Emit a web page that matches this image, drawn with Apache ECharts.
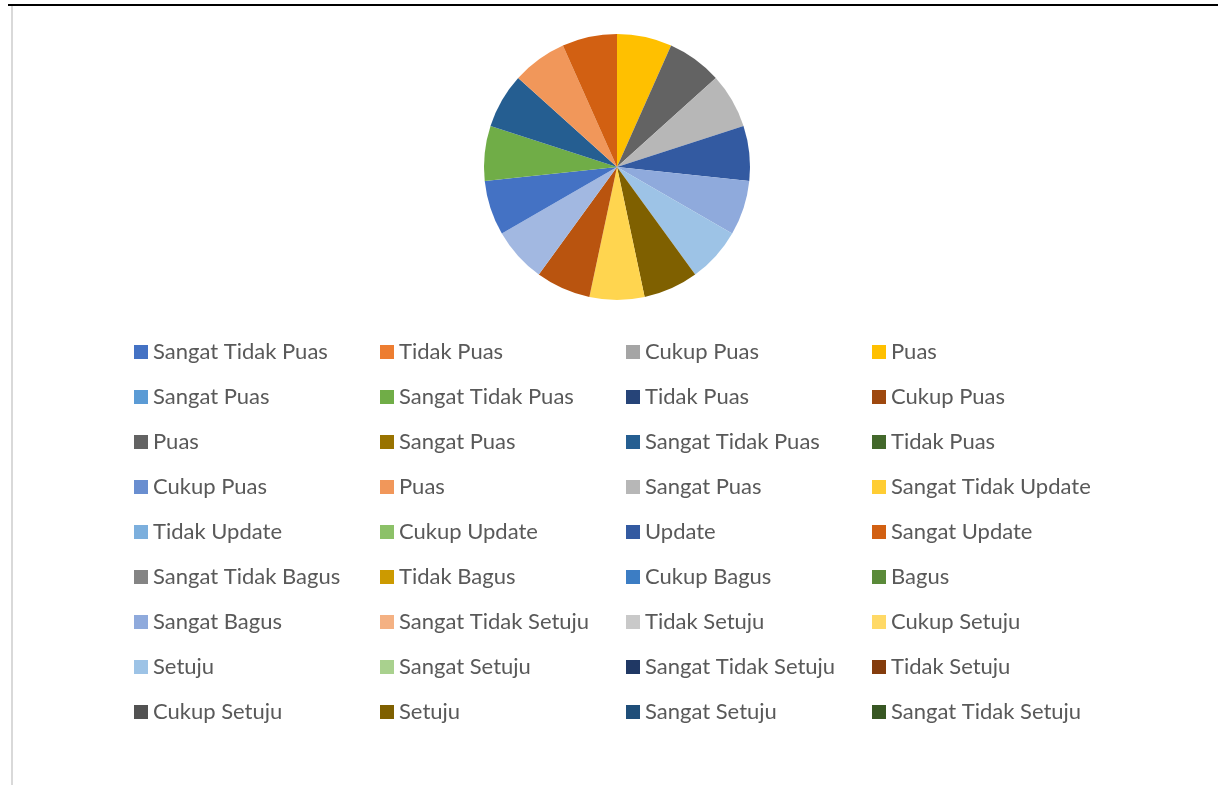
<!DOCTYPE html>
<html lang="id">
<head>
	<meta charset="utf-8">
	<title>Diagram Kuesioner</title>
	<script src="https://cdn.jsdelivr.net/npm/echarts@6/dist/echarts.min.js"></script>
	<style>
		html, body { margin: 0; padding: 0; background: #fff; }
		#main { width: 1218px; height: 785px; }
	</style>
</head>
<body>
	<div id="main"></div>

	<script type="text/javascript">
		// kategori yang tampil di legenda (urutan data)
		var categories = [
			'Sangat Tidak Puas', 'Tidak Puas', 'Cukup Puas', 'Puas',
			'Sangat Puas', 'Sangat Tidak Puas', 'Tidak Puas', 'Cukup Puas',
			'Puas', 'Sangat Puas', 'Sangat Tidak Puas', 'Tidak Puas',
			'Cukup Puas', 'Puas', 'Sangat Puas', 'Sangat Tidak Update',
			'Tidak Update', 'Cukup Update', 'Update', 'Sangat Update',
			'Sangat Tidak Bagus', 'Tidak Bagus', 'Cukup Bagus', 'Bagus',
			'Sangat Bagus', 'Sangat Tidak Setuju', 'Tidak Setuju', 'Cukup Setuju',
			'Setuju', 'Sangat Setuju', 'Sangat Tidak Setuju', 'Tidak Setuju',
			'Cukup Setuju', 'Setuju', 'Sangat Setuju', 'Sangat Tidak Setuju'
		];
		var values = [
			0, 0, 0, 1,
			0, 0, 0, 0,
			1, 0, 0, 0,
			0, 0, 1, 0,
			0, 0, 1, 0,
			0, 0, 0, 0,
			1, 0, 0, 0,
			1, 0, 0, 0,
			0, 1, 0, 0
		];
		// irisan sisanya (tidak muat di legenda)
		var extraLabels = ['Butir 8', 'Butir 9', 'Butir 10', 'Butir 11', 'Butir 12', 'Butir 13', 'Butir 14', 'Butir 15'];
		var extraValues = [1, 1, 1, 1, 1, 1, 1, 1];

		// warna ala Excel
		var palette = [
			'#4472C4', '#ED7D31', '#A5A5A5', '#FFC000', '#5B9BD5', '#70AD47',
			'#264478', '#9E480E', '#636363', '#997300', '#255E91', '#43682B',
			'#698ED0', '#F1975A', '#B7B7B7', '#FFCD33', '#7CAFDD', '#8CC168',
			'#335AA1', '#D26012', '#848484', '#CC9A00', '#3C7DC4', '#5A8A39',
			'#8FAADC', '#F4B183', '#C9C9C9', '#FFD966', '#9DC3E6', '#A9D18E',
			'#203864', '#843C0C', '#525252', '#7F6000', '#1F4E79', '#385723'
		];
		var extraPalette = ['#FFD54F', '#B9540F', '#A2B8E1', '#4472C4', '#70AD47', '#255E91', '#F1975A', '#D26012'];

		// nama dibuat unik supaya legenda tidak menggabungkan yang sama
		var pieData = [];
		var legendNames = [];
		for (var i = 0; i < categories.length; i++) {
			var key = categories[i] + '#' + i;
			legendNames.push(key);
			pieData.push({ name: key, value: values[i], itemStyle: { color: palette[i] } });
		}
		for (var j = 0; j < extraLabels.length; j++) {
			pieData.push({ name: extraLabels[j] + '#x' + j, value: extraValues[j], itemStyle: { color: extraPalette[j] } });
		}

		// 4 kolom legenda
		var legends = [];
		for (var c = 0; c < 4; c++) {
			var colData = [];
			for (var k = c; k < legendNames.length; k += 4) colData.push(legendNames[k]);
			legends.push({
				orient: 'vertical',
				left: 134 + c * 246,
				top: 341,
				padding: 0,
				itemWidth: 14,
				itemHeight: 14,
				itemGap: 23,
				icon: 'rect',
				selectedMode: false,
				data: colData,
				formatter: function (name) { return name.split('#')[0]; },
				textStyle: { color: '#595959', fontSize: 22, fontFamily: 'Lato' }
			});
		}

		var myChart = echarts.init(document.getElementById('main'));
		var option = {
			animation: false,
			legend: legends,
			series: [
				{
					type: 'pie',
					center: [617, 167],
					radius: 133,
					startAngle: 90,
					clockwise: true,
					label: { show: false },
					labelLine: { show: false },
					emphasis: { disabled: true },
					data: pieData
				}
			],
			graphic: [
				{ type: 'rect', shape: { x: 8, y: 4, width: 1210, height: 2 }, style: { fill: '#000' }, silent: true },
				{ type: 'rect', shape: { x: 11, y: 6, width: 2, height: 779 }, style: { fill: '#D9D9D9' }, silent: true }
			]
		};
		myChart.setOption(option);
	</script>
</body>
</html>
